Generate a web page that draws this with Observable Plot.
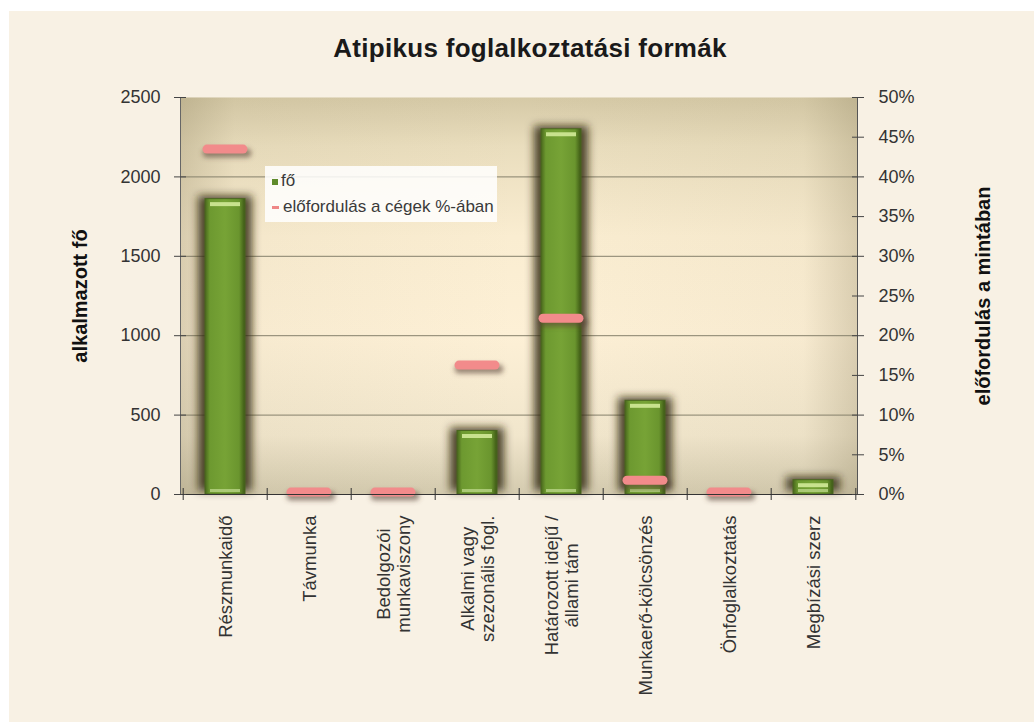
<!DOCTYPE html>
<html>
<head>
<meta charset="utf-8">
<script src="https://cdn.jsdelivr.net/npm/d3@7"></script>
<script src="https://cdn.jsdelivr.net/npm/@observablehq/plot@0.6"></script>
<style>
  html, body { margin: 0; padding: 0; background: #ffffff; }
  body { width: 1034px; height: 722px; position: relative; overflow: hidden; font-family: "Liberation Sans", Arial, sans-serif; }
  #bg { position: absolute; left: 9px; top: 11px; right: 0; bottom: 0; background: #f8f1e4; }
  #title { position: absolute; left: 0; top: 33px; width: 1060px; text-align: center; font-weight: bold; font-size: 26px; letter-spacing: 0.3px; color: #1a1a1a; }
  #chart { position: absolute; left: 0; top: 70px; }
  #legend { position: absolute; left: 265px; top: 166px; width: 232px; height: 56px; background: rgba(255,255,255,0.85); font-size: 17px; color: #3a3a3a; }
  #legend .row { position: absolute; left: 7px; white-space: nowrap; }
  #legend .sw1 { display: inline-block; width: 6px; height: 6px; background: #5f8a2a; margin-right: 3px; vertical-align: middle; }
  #legend .sw2 { display: inline-block; width: 7px; height: 3px; background: #ef8787; margin-right: 4px; vertical-align: middle; }
</style>
</head>
<body>
<div id="bg"></div>
<div id="title">Atipikus foglalkoztatási formák</div>
<div id="chart"></div>
<div id="legend">
  <div class="row" style="top:5px"><span class="sw1"></span>fő</div>
  <div class="row" style="top:31px"><span class="sw2"></span>előfordulás a cégek %-ában</div>
</div>
<script>
// ---- data ----
const categories = [
  "Részmunkaidő",
  "Távmunka",
  "Bedolgozói\nmunkaviszony",
  "Alkalmi vagy\nszezonális fogl.",
  "Határozott idejű /\nállami tám",
  "Munkaerő-kölcsönzés",
  "Önfoglalkoztatás",
  "Megbízási szerz"
];
const employees = [1860, 0, 0, 400, 2300, 590, 0, 90];          // alkalmazott fő
const sharePct  = [43.5, 0.3, 0.3, 16.3, 22.2, 1.8, 0.3, null];  // előfordulás a cégek %-ában
const leftTicks  = [0, 500, 1000, 1500, 2000, 2500];
const rightTicks = [0, 5, 10, 15, 20, 25, 30, 35, 40, 45, 50];
const leftTitle  = "alkalmazott fő";
const rightTitle = "előfordulás a mintában";
const countMax = 2500, pctMax = 50;

// ---- table ----
const rows = categories.map((c, i) => ({cat: c, n: employees[i], p: sharePct[i]}));
const barRows = rows.filter(d => d.n > 0);
const pctRows = rows.filter(d => d.p != null);
const k = countMax / pctMax; // percent -> count axis units

const W = 1034, H = 652, mL = 180, mR = 177, mT = 27, mB = 228;
const bw = (W - mL - mR) / categories.length;
const XFS = 18.5;

// measure label widths for block alignment
const ctx = document.createElement("canvas").getContext("2d");
ctx.font = XFS + "px 'Liberation Sans'";
const labelWidth = s => Math.max(...s.split("\n").map(t => ctx.measureText(t).width));

const xLabelMarks = categories.map(c =>
  Plot.text([c], {
    x: d => d, text: d => d, frameAnchor: "bottom", rotate: -90,
    textAnchor: "middle", lineAnchor: "middle", lineHeight: 1.1,
    dy: 21 + labelWidth(c) / 2, fontSize: XFS, fill: "#333"
  })
);

const chart = Plot.plot({
  width: W, height: H,
  marginLeft: mL, marginRight: mR, marginTop: mT, marginBottom: mB,
  style: {fontFamily: "'Liberation Sans', Arial, sans-serif", fontSize: "18px", color: "#333", background: "transparent", overflow: "visible"},
  x: {type: "band", domain: categories, padding: 0, axis: null},
  y: {domain: [0, countMax], axis: null},
  marks: [
    Plot.frame({fill: "url(#plotbg)", stroke: "none"}),
    Plot.frame({fill: "url(#plotedge)", stroke: "none"}),
    Plot.ruleY(leftTicks.filter(t => t > 0 && t < countMax), {stroke: "#85806c", strokeWidth: 1}),
    // bar shadows
    Plot.barY(barRows, {x: "cat", y: "n", insetLeft: 15, insetRight: 15, fill: "#33290f", fillOpacity: 0.85, dy: -3, ariaLabel: () => "bar-shadow"}),
    // bars
    Plot.barY(barRows, {x: "cat", y: "n", insetLeft: 22, insetRight: 22, fill: "url(#bargrad)", stroke: "#4a6620", strokeWidth: 1}),
    Plot.tickY(barRows, {x: "cat", y: "n", dy: 5, insetLeft: 27, insetRight: 27, stroke: "#c8e28e", strokeWidth: 4}),
    Plot.tickY(barRows, {x: "cat", y: 0, dy: -4, insetLeft: 27, insetRight: 27, stroke: "#b9d487", strokeWidth: 3, strokeOpacity: 0.8}),
    // percent markers
    Plot.tickY(pctRows, {x: "cat", y: d => d.p * k, dy: 4, dx: 2, insetLeft: 22, insetRight: 22, stroke: "#5a4438", strokeOpacity: 0.6, strokeWidth: 9, strokeLinecap: "round", ariaLabel: () => "pct-shadow"}),
    Plot.tickY(pctRows, {x: "cat", y: d => d.p * k, insetLeft: 24, insetRight: 24, stroke: "#f28b8b", strokeWidth: 9, strokeLinecap: "round"}),
    // axis lines
    Plot.frame({anchor: "left", stroke: "#666"}),
    Plot.frame({anchor: "right", stroke: "#555"}),
    Plot.frame({anchor: "bottom", stroke: "#333"}),
    // left axis
    Plot.axisY({anchor: "left", ticks: leftTicks, tickSize: 12, dx: 6, tickPadding: 14, tickFormat: d => String(d), label: null, stroke: "#444", fill: "#333", fontSize: 18}),
    // right axis (percent)
    Plot.axisY({anchor: "right", ticks: rightTicks.map(v => v * k), tickSize: 12, dx: -6, tickPadding: 15, tickFormat: d => (d / k) + "%", label: null, stroke: "#444", fill: "#333", fontSize: 18}),
    // x boundary ticks
    Plot.axisX({ticks: categories, tickSize: 12, dx: -bw / 2, dy: -6, text: null, label: null, stroke: "#333"}),
    Plot.axisX({ticks: [categories[categories.length - 1]], tickSize: 12, dx: bw / 2, dy: -6, text: null, label: null, stroke: "#333"}),
    ...xLabelMarks,
    // axis titles
    Plot.text([leftTitle], {text: d => d, frameAnchor: "left", textAnchor: "middle", dx: -100, rotate: -90, fontWeight: "bold", fontSize: 20, fill: "#111"}),
    Plot.text([rightTitle], {text: d => d, frameAnchor: "right", textAnchor: "middle", dx: 126, rotate: -90, fontWeight: "bold", fontSize: 20, fill: "#111"})
  ]
});

// gradients & filters
const svg = d3.select(chart);
const defs = svg.insert("defs", ":first-child");
const bg = defs.append("linearGradient").attr("id", "plotbg").attr("x1", 0).attr("y1", 0).attr("x2", 0).attr("y2", 1);
[["0%", "#d5c9a6"], ["12%", "#e9ddbd"], ["35%", "#faedd1"], ["60%", "#fdf0d6"], ["85%", "#f1e6cc"], ["100%", "#d3caae"]]
  .forEach(([o, c]) => bg.append("stop").attr("offset", o).attr("stop-color", c));
const edge = defs.append("linearGradient").attr("id", "plotedge").attr("x1", 0).attr("y1", 0).attr("x2", 1).attr("y2", 0);
[["0%", 0.3], ["8%", 0.05], ["50%", 0], ["92%", 0.05], ["100%", 0.3]]
  .forEach(([o, a]) => edge.append("stop").attr("offset", o).attr("stop-color", "#8a7f5c").attr("stop-opacity", a));
const bar = defs.append("linearGradient").attr("id", "bargrad").attr("x1", 0).attr("y1", 0).attr("x2", 1).attr("y2", 0);
[["0%", "#48661b"], ["12%", "#6d9930"], ["50%", "#77a336"], ["85%", "#6a952e"], ["100%", "#3c5714"]]
  .forEach(([o, c]) => bar.append("stop").attr("offset", o).attr("stop-color", c));
function addBlur(id, sd) {
  const f = defs.append("filter").attr("id", id).attr("filterUnits", "userSpaceOnUse")
    .attr("x", 0).attr("y", 0).attr("width", W).attr("height", H);
  f.append("feGaussianBlur").attr("stdDeviation", sd);
}
addBlur("blur", 4.5);
addBlur("blur2", 2.5);
svg.selectAll('[aria-label="bar-shadow"]').attr("filter", "url(#blur)");
svg.selectAll('[aria-label="pct-shadow"]').attr("filter", "url(#blur2)");

document.getElementById("chart").appendChild(chart);
</script>
</body>
</html>
